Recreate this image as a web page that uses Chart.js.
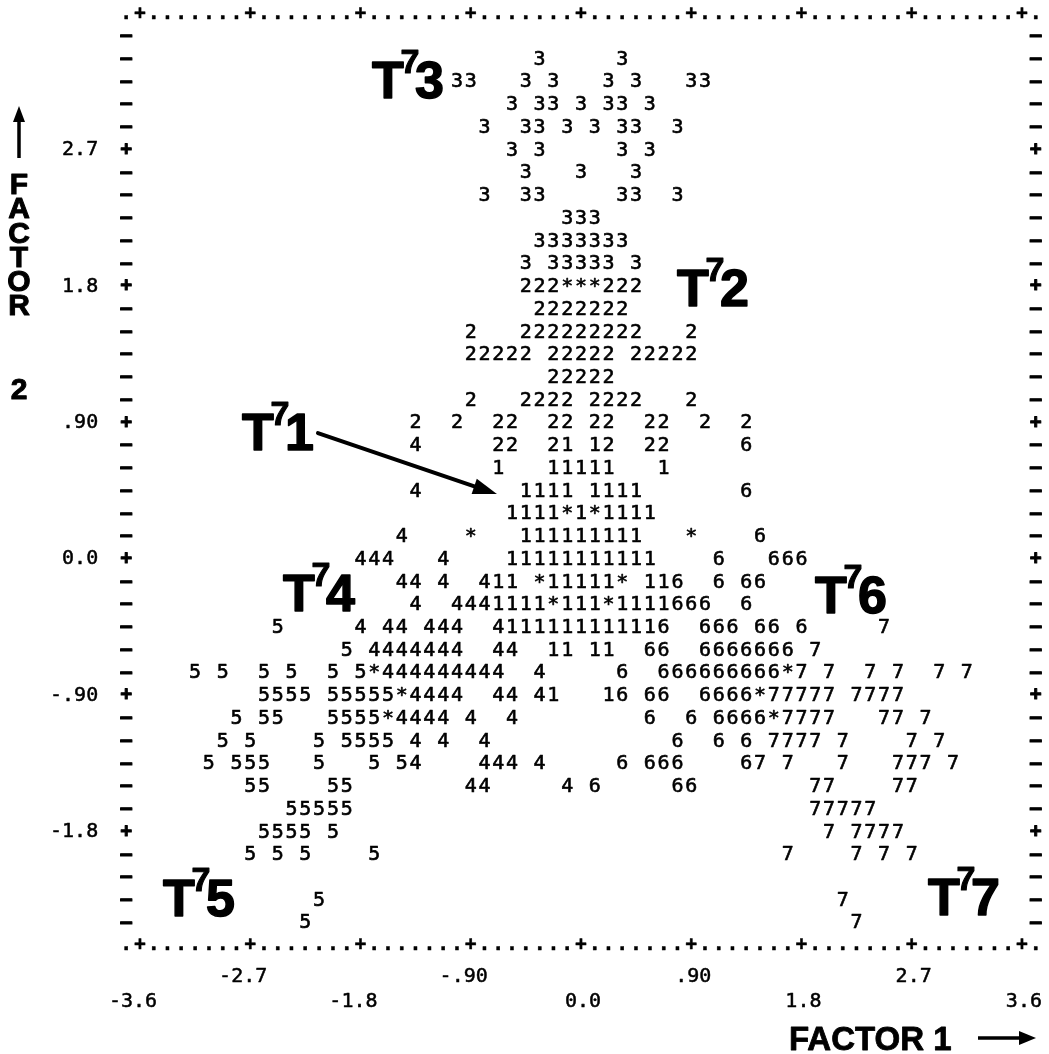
<!DOCTYPE html>
<html>
<head>
<meta charset="utf-8">
<script src="https://cdn.jsdelivr.net/npm/chart.js@4.4.1/dist/chart.umd.min.js"></script>
<style>
  html, body { margin: 0; padding: 0; background: #ffffff; overflow: hidden; }
  #wrap { position: relative; width: 1049px; height: 1054px; }
</style>
</head>
<body>
<div id="wrap"><canvas id="plot"></canvas></div>
<script>
// Line-printer grid: one character column per FACTOR 1 step, one printed line per FACTOR 2 step
const factor1Min = -3.6;
const factor1Max = 3.6;
const factor1Step = 0.1125;
const factor2Top = 3.6;
const factor2Bottom = -2.55;

// FACTOR 2 value of every printed line, top to bottom
const factor2Lines = [3.45, 3.30, 3.15, 3.00, 2.85, 2.70, 2.55, 2.40, 2.25, 2.10,
  1.95, 1.80, 1.65, 1.50, 1.35, 1.20, 1.05, 0.90, 0.75, 0.60,
  0.45, 0.30, 0.15, 0.00, -0.15, -0.30, -0.45, -0.60, -0.75, -0.90,
  -1.05, -1.20, -1.35, -1.50, -1.65, -1.80, -1.95, -2.10, -2.25, -2.40];

// Plot symbols printed on each line: [FACTOR 1 column, run of symbols]
const lineCells = [
  [],
  [[29, "3"], [35, "3"]],
  [[23, "33"], [28, "3 3"], [34, "3 3"], [40, "33"]],
  [[27, "3 33 3 33 3"]],
  [[25, "3  33 3 3 33  3"]],
  [[27, "3 3"], [35, "3 3"]],
  [[28, "3"], [32, "3"], [36, "3"]],
  [[25, "3  33"], [35, "33  3"]],
  [[31, "333"]],
  [[29, "3333333"]],
  [[28, "3 33333 3"]],
  [[28, "222***222"]],
  [[29, "2222222"]],
  [[24, "2"], [28, "222222222"], [40, "2"]],
  [[24, "22222"], [30, "22222"], [36, "22222"]],
  [[30, "22222"]],
  [[24, "2"], [28, "2222 2222"], [40, "2"]],
  [[20, "2"], [23, "2"], [26, "22"], [30, "22"], [33, "22"], [37, "22"], [41, "2"], [44, "2"]],
  [[20, "4"], [26, "22"], [30, "21"], [33, "12"], [37, "22"], [44, "6"]],
  [[26, "1"], [30, "11111"], [38, "1"]],
  [[20, "4"], [28, "1111 1111"], [44, "6"]],
  [[27, "1111*1*1111"]],
  [[19, "4"], [24, "*"], [28, "111111111"], [40, "*"], [45, "6"]],
  [[16, "444"], [22, "4"], [27, "11111111111"], [42, "6"], [46, "666"]],
  [[19, "44"], [22, "4"], [25, "411"], [29, "*11111*"], [37, "116"], [42, "6"], [44, "66"]],
  [[20, "4"], [23, "4441111*111*1111666"], [44, "6"]],
  [[10, "5"], [16, "4"], [18, "44"], [21, "444"], [26, "4"], [27, "11111111111"], [38, "6"], [41, "666"], [45, "66"], [48, "6"], [54, "7"]],
  [[15, "5"], [17, "4444444"], [26, "44"], [30, "11"], [33, "11"], [37, "66"], [41, "6666666"], [49, "7"]],
  [[4, "5"], [6, "5"], [9, "5"], [11, "5"], [14, "5"], [16, "5*444444444"], [29, "4"], [35, "6"], [38, "666666666*7"], [50, "7"], [53, "7"], [55, "7"], [58, "7"], [60, "7"]],
  [[9, "5555"], [14, "55555*4444"], [26, "44"], [29, "41"], [34, "16"], [37, "66"], [41, "6666*77777"], [52, "7777"]],
  [[7, "5"], [9, "55"], [14, "5555*4444"], [24, "4"], [27, "4"], [37, "6"], [40, "6"], [42, "6666*7777"], [54, "77"], [57, "7"]],
  [[6, "5"], [8, "5"], [13, "5"], [15, "5555"], [20, "4"], [22, "4"], [25, "4"], [39, "6"], [42, "6"], [44, "6"], [46, "7777"], [51, "7"], [56, "7"], [58, "7"]],
  [[5, "5"], [7, "555"], [13, "5"], [17, "5"], [19, "54"], [25, "444"], [29, "4"], [35, "6"], [37, "666"], [44, "67"], [47, "7"], [51, "7"], [55, "777"], [59, "7"]],
  [[8, "55"], [14, "55"], [24, "44"], [31, "4"], [33, "6"], [39, "66"], [49, "77"], [55, "77"]],
  [[11, "55555"], [49, "77777"]],
  [[9, "5555"], [14, "5"], [50, "7"], [52, "7777"]],
  [[8, "5"], [10, "5"], [12, "5"], [17, "5"], [47, "7"], [52, "7"], [54, "7"], [56, "7"]],
  [],
  [[13, "5"], [51, "7"]],
  [[12, "5"], [52, "7"]]
];

// Axis ticks
const xTickValues = [-3.6, -2.7, -1.8, -0.9, 0.0, 0.9, 1.8, 2.7, 3.6];
const xTickLabels = ["-3.6", "-2.7", "-1.8", "-.90", "0.0", ".90", "1.8", "2.7", "3.6"];
const yTickValues = [2.7, 1.8, 0.9, 0.0, -0.9, -1.8];
const yTickLabels = ["2.7", "1.8", ".90", "0.0", "-.90", "-1.8"];

// Group symbols ('*' marks several groups on one cell)
const groupSymbols = ["1", "2", "3", "4", "5", "6", "7", "*"];

// Group name labels placed in FACTOR space (left edge, baseline)
const groupTags = [
  { digit: "1", x: -2.767, y: 0.720 },
  { digit: "2", x: 0.784, y: 1.670 },
  { digit: "3", x: -1.706, y: 3.043 },
  { digit: "4", x: -2.433, y: -0.343 },
  { digit: "5", x: -3.412, y: -2.356 },
  { digit: "6", x: 1.910, y: -0.356 },
  { digit: "7", x: 2.833, y: -2.350 }
];
// Pointer from the T71 tag to its cluster
const pointerFrom = { x: -2.147, y: 0.832 };
const pointerTo = { x: -0.686, y: 0.429 };

const MONO = '"DejaVu Sans Mono", "Liberation Mono", monospace';
const SANS = '"Liberation Sans", Arial, Helvetica, sans-serif';

// One scatter dataset per symbol
const datasets = groupSymbols.map(s => ({
  label: s, data: [], pointRadius: 0, pointHoverRadius: 0, showLine: false
}));
lineCells.forEach((cells, i) => {
  const y = factor2Lines[i];
  cells.forEach(([col, run]) => {
    for (let k = 0; k < run.length; k++) {
      const ch = run[k];
      if (ch === " ") continue;
      datasets[groupSymbols.indexOf(ch)].data.push({ x: factor1Min + (col + k) * factor1Step, y: y });
    }
  });
});

// heavy text: fill plus a thin outline, like a worn printer ribbon
function inkText(ctx, s, x, y, w) {
  ctx.fillText(s, x, y);
  if (w > 0) { ctx.lineWidth = w; ctx.strokeText(s, x, y); }
}

const printerPlot = {
  id: "printerPlot",
  afterDatasetsDraw(chart) {
    const ctx = chart.ctx;
    const xs = chart.scales.x, ys = chart.scales.y;
    const area = chart.chartArea;
    ctx.save();
    ctx.fillStyle = "#000";
    ctx.strokeStyle = "#000";
    ctx.lineJoin = "round";
    ctx.textAlign = "center";
    ctx.textBaseline = "middle";

    // symbols
    ctx.font = "20px " + MONO;
    chart.data.datasets.forEach((ds, i) => {
      chart.getDatasetMeta(i).data.forEach(el => inkText(ctx, ds.label, el.x, el.y + 0.5, 0.6));
    });

    // frame: dotted top/bottom rows with '+' at major ticks
    ctx.font = "bold 19px " + MONO;
    const nCols = Math.round((factor1Max - factor1Min) / factor1Step);
    for (let c = -1; c <= nCols + 1; c++) {
      const v = factor1Min + c * factor1Step;
      const px = xs.getPixelForValue(v);
      const major = xTickValues.some(t => Math.abs(t - v) < 1e-6);
      inkText(ctx, major ? "+" : ".", px, ys.getPixelForValue(factor2Top), 0.5);
      inkText(ctx, major ? "+" : ".", px, ys.getPixelForValue(factor2Bottom), 0.5);
    }
    // side columns with '+' at major ticks
    factor2Lines.forEach(v => {
      const py = ys.getPixelForValue(v);
      const major = yTickValues.some(t => Math.abs(t - v) < 1e-6);
      const s = major ? "+" : "\u2013";
      inkText(ctx, s, xs.getPixelForValue(factor1Min - factor1Step), py, 1);
      inkText(ctx, s, xs.getPixelForValue(factor1Max + factor1Step), py, 1);
    });

    // tick labels
    ctx.font = "20px " + MONO;
    ctx.textAlign = "right";
    yTickValues.forEach((v, i) => {
      inkText(ctx, yTickLabels[i], area.left - 28, ys.getPixelForValue(v), 0.5);
    });
    // x labels alternate between two printed lines; a minus sign hangs left of the number
    const charW = ctx.measureText("0").width;
    ctx.textAlign = "center";
    xTickValues.forEach((v, i) => {
      const py = area.bottom + (i % 2 === 1 ? 31 : 56);
      const lab = xTickLabels[i];
      const shift = lab.startsWith("-") ? -charW / 2 - 1 : 2;
      inkText(ctx, lab, xs.getPixelForValue(v) + shift, py, 0.5);
    });

    // group tags T^7n
    ctx.textAlign = "left";
    ctx.textBaseline = "alphabetic";
    groupTags.forEach(t => {
      const px = xs.getPixelForValue(t.x), py = ys.getPixelForValue(t.y);
      ctx.font = "bold 52px " + SANS;
      inkText(ctx, "T", px, py, 1.5);
      inkText(ctx, t.digit, px + 43, py, 1.5);
      ctx.font = "bold 34px " + SANS;
      inkText(ctx, "7", px + 28.5, py - 25, 1.1);
    });

    // pointer arrow
    const ax = xs.getPixelForValue(pointerFrom.x), ay = ys.getPixelForValue(pointerFrom.y);
    const bx = xs.getPixelForValue(pointerTo.x), by = ys.getPixelForValue(pointerTo.y);
    const len = Math.hypot(bx - ax, by - ay);
    const ux = (bx - ax) / len, uy = (by - ay) / len;
    const hl = 24, hw = 8;
    ctx.lineWidth = 4;
    ctx.lineCap = "round";
    ctx.beginPath();
    ctx.moveTo(ax, ay);
    ctx.lineTo(bx - ux * hl * 0.8, by - uy * hl * 0.8);
    ctx.stroke();
    ctx.beginPath();
    ctx.moveTo(bx, by);
    ctx.lineTo(bx - ux * hl - uy * hw, by - uy * hl + ux * hw);
    ctx.lineTo(bx - ux * hl + uy * hw, by - uy * hl - ux * hw);
    ctx.closePath();
    ctx.fill();

    // axis titles
    ctx.font = "bold 30px " + SANS;
    ctx.textAlign = "center";
    ctx.textBaseline = "middle";
    const vTitle = "FACTOR";
    for (let i = 0; i < vTitle.length; i++) inkText(ctx, vTitle[i], 19, 186 + i * 24.2, 1);
    inkText(ctx, "2", 19, 391, 1);
    // upward arrow
    ctx.lineWidth = 3.5;
    ctx.lineCap = "butt";
    ctx.beginPath();
    ctx.moveTo(19, 158);
    ctx.lineTo(19, 118);
    ctx.stroke();
    ctx.beginPath();
    ctx.moveTo(19, 106);
    ctx.lineTo(13, 122);
    ctx.lineTo(25, 122);
    ctx.closePath();
    ctx.fill();

    ctx.font = "bold 33px " + SANS;
    ctx.textAlign = "left";
    ctx.textBaseline = "alphabetic";
    inkText(ctx, "FACTOR 1", 789, 1050, 0.8);
    ctx.lineWidth = 3.5;
    ctx.beginPath();
    ctx.moveTo(978, 1038);
    ctx.lineTo(1022, 1038);
    ctx.stroke();
    ctx.beginPath();
    ctx.moveTo(1036, 1038);
    ctx.lineTo(1019, 1031);
    ctx.lineTo(1019, 1045);
    ctx.closePath();
    ctx.fill();
    ctx.restore();
  }
};

new Chart(document.getElementById("plot"), {
  type: "scatter",
  data: { datasets: datasets },
  options: {
    responsive: true,
    maintainAspectRatio: false,
    animation: false,
    events: [],
    layout: { padding: { left: 126.2, right: 13.3, top: 13.6, bottom: 108.5 } },
    plugins: { legend: { display: false }, tooltip: { enabled: false } },
    scales: {
      x: { type: "linear", display: false, min: factor1Min - factor1Step, max: factor1Max + factor1Step },
      y: { type: "linear", display: false, min: factor2Bottom, max: factor2Top }
    }
  },
  plugins: [printerPlot]
});
</script>
</body>
</html>
